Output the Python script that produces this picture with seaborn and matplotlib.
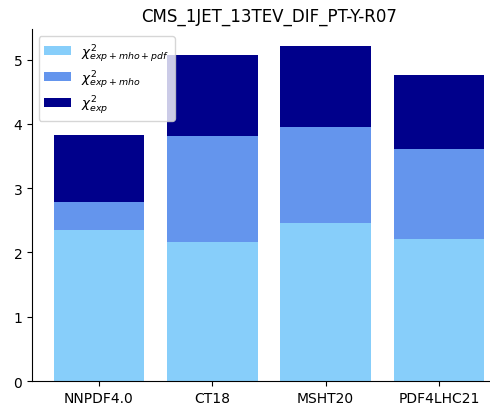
import matplotlib
matplotlib.use("Agg")
import matplotlib.pyplot as plt
import seaborn as sns
import pandas as pd

# Chi-squared values per PDF set for the CMS inclusive jet dataset
pdf_sets = ["NNPDF4.0", "CT18", "MSHT20", "PDF4LHC21"]
chi2_exp = [3.83, 5.07, 5.21, 4.76]
chi2_exp_mho = [2.79, 3.81, 3.95, 3.61]
chi2_exp_mho_pdf = [2.35, 2.17, 2.46, 2.21]

df = pd.DataFrame({
    "pdf": pdf_sets,
    "exp": chi2_exp,
    "exp_mho": chi2_exp_mho,
    "exp_mho_pdf": chi2_exp_mho_pdf,
})

sns.set_style("ticks", rc={
    "text.color": "black",
    "axes.labelcolor": "black",
    "axes.edgecolor": "black",
    "xtick.color": "black",
    "ytick.color": "black",
})
fig = plt.figure(figsize=(4.9, 4.06), dpi=100)
ax = fig.add_axes([0.0653, 0.0591, 0.967, 0.866])

# Overlaid bars: the largest chi2 at the back, smaller ones drawn on top
common = dict(x="pdf", saturation=1, width=0.8, linewidth=0, ax=ax)
sns.barplot(data=df, y="exp", color="darkblue", label=r"$\chi^2_{exp}$", **common)
sns.barplot(data=df, y="exp_mho", color="cornflowerblue",
            label=r"$\chi^2_{exp+mho}$", **common)
sns.barplot(data=df, y="exp_mho_pdf", color="lightskyblue",
            label=r"$\chi^2_{exp+mho+pdf}$", **common)

ax.set_xlim(-0.59, 3.59)
ax.set_ylim(0, max(chi2_exp) * 1.05)
ax.set_xlabel("")
ax.set_ylabel("")
ax.set_title("CMS_1JET_13TEV_DIF_PT-Y-R07")
ax.set_yticks([0, 1, 2, 3, 4, 5])
sns.despine(ax=ax)

handles, labels = ax.get_legend_handles_labels()
ax.legend(handles[::-1], labels[::-1], loc="upper left",
          fontsize=9.6, labelspacing=0.28)

fig.savefig("out.png", dpi=100)
